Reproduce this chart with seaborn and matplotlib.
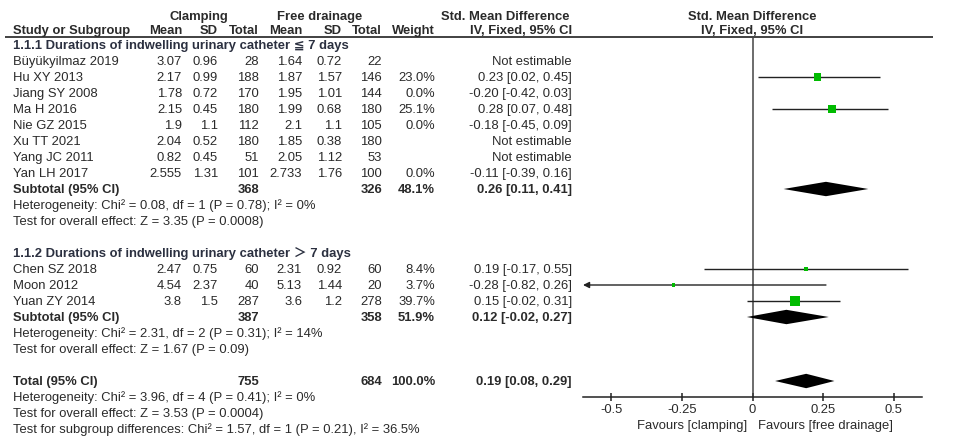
import numpy as np
import pandas as pd
import matplotlib
matplotlib.use("Agg")
import matplotlib.pyplot as plt
import seaborn as sns

# ---- study-level data -------------------------------------------------
studies = ["Büyükyilmaz 2019", "Hu XY 2013", "Jiang SY 2008", "Ma H 2016",
           "Nie GZ 2015", "Xu TT 2021", "Yang JC 2011", "Yan LH 2017",
           "Chen SZ 2018", "Moon 2012", "Yuan ZY 2014"]
subgroup = [1, 1, 1, 1, 1, 1, 1, 1, 2, 2, 2]
clamp_mean = [3.07, 2.17, 1.78, 2.15, 1.9, 2.04, 0.82, 2.555, 2.47, 4.54, 3.8]
clamp_sd = [0.96, 0.99, 0.72, 0.45, 1.1, 0.52, 0.45, 1.31, 0.75, 2.37, 1.5]
clamp_n = [28, 188, 170, 180, 112, 180, 51, 101, 60, 40, 287]
free_mean = [1.64, 1.87, 1.95, 1.99, 2.1, 1.85, 2.05, 2.733, 2.31, 5.13, 3.6]
free_sd = [0.72, 1.57, 1.01, 0.68, 1.1, 0.38, 1.12, 1.76, 0.92, 1.44, 1.2]
free_n = [22, 146, 144, 180, 105, 180, 53, 100, 60, 20, 278]
weight = [np.nan, 23.0, 0.0, 25.1, 0.0, np.nan, np.nan, 0.0, 8.4, 3.7, 39.7]
smd = [np.nan, 0.23, -0.20, 0.28, -0.18, np.nan, np.nan, -0.11, 0.19, -0.28, 0.15]
ci_low = [np.nan, 0.02, -0.42, 0.07, -0.45, np.nan, np.nan, -0.39, -0.17, -0.82, -0.02]
ci_high = [np.nan, 0.45, 0.03, 0.48, 0.09, np.nan, np.nan, 0.16, 0.55, 0.26, 0.31]

# ---- pooled estimates ---------------------------------------------------
group_titles = ["1.1.1 Durations of indwelling urinary catheter ≦ 7 days",
                "1.1.2 Durations of indwelling urinary catheter ＞ 7 days"]
sub_clamp_n = [368, 387]
sub_free_n = [326, 358]
sub_weight = [48.1, 51.9]
sub_est = [0.26, 0.12]
sub_low = [0.11, -0.02]
sub_high = [0.41, 0.27]
sub_het = ["Heterogeneity: Chi² = 0.08, df = 1 (P = 0.78); I² = 0%",
           "Heterogeneity: Chi² = 2.31, df = 2 (P = 0.31); I² = 14%"]
sub_test = ["Test for overall effect: Z = 3.35 (P = 0.0008)",
            "Test for overall effect: Z = 1.67 (P = 0.09)"]

total_clamp_n = 755
total_free_n = 684
total_weight = 100.0
total_est = 0.19
total_low = 0.08
total_high = 0.29
total_het = "Heterogeneity: Chi² = 3.96, df = 4 (P = 0.41); I² = 0%"
total_test = "Test for overall effect: Z = 3.53 (P = 0.0004)"
subgroup_test = "Test for subgroup differences: Chi² = 1.57, df = 1 (P = 0.21), I² = 36.5%"

x_ticks = [-0.5, -0.25, 0, 0.25, 0.5]
x_tick_labels = ["-0.5", "-0.25", "0", "0.25", "0.5"]
favours_left = "Favours [clamping]"
favours_right = "Favours [free drainage]"

df = pd.DataFrame(dict(study=studies, group=subgroup, cm=clamp_mean, csd=clamp_sd,
                       cn=clamp_n, fm=free_mean, fsd=free_sd, fn=free_n,
                       w=weight, smd=smd, lo=ci_low, hi=ci_high))

# ---- layout -----------------------------------------------------------
W, H = 968, 439
ROW0, STEP = 46.0, 16.0          # pixel centre of first row, row pitch
FS = 9.35
FAM = ["Liberation Sans", "DejaVu Sans", "Noto Sans CJK SC"]
TXT = "#2a2a2a"
HEAD = "#2b3040"
GREEN = "#00bb00"

sns.set_theme(style="white")
plt.rcParams["font.family"] = FAM
plt.rcParams["font.size"] = FS

fig = plt.figure(figsize=(W / 100, H / 100), dpi=100, facecolor="white")

# text layer covering the whole figure: x in pixels, y in row units
tab = fig.add_axes([0, 0, 1, 1])
tab.set_xlim(0, W)
tab.set_ylim((H - ROW0) / STEP, -ROW0 / STEP)
tab.axis("off")
tab.patch.set_alpha(0)

# column right edges (pixels)
X_NAME = 13
X_CM, X_CSD, X_CN = 182, 218, 259
X_FM, X_FSD, X_FN = 302, 342, 382
X_W, X_CI = 435, 572


def put(x, r, s, ha="right", bold=False, color=TXT):
    tab.text(x, r, s, ha=ha, va="center", fontsize=FS, color=color,
             fontweight="bold" if bold else "normal", family=FAM)


def fmt(v):
    return f"{v:g}"


# column headers
r_top, r_hdr = (17 - ROW0) / STEP, (31 - ROW0) / STEP
put(199, r_top, "Clamping", ha="center", bold=True)
put(320, r_top, "Free drainage", ha="center", bold=True)
put(505, r_top, "Std. Mean Difference", ha="center", bold=True)
put(752, r_top, "Std. Mean Difference", ha="center", bold=True)
put(X_NAME, r_hdr, "Study or Subgroup", ha="left", bold=True)
for x, s in [(X_CM, "Mean"), (X_CSD, "SD"), (X_CN, "Total"), (X_FM, "Mean"),
             (X_FSD, "SD"), (X_FN, "Total"), (X_W, "Weight"), (X_CI, "IV, Fixed, 95% CI")]:
    put(x, r_hdr, s, bold=True)
put(752, r_hdr, "IV, Fixed, 95% CI", ha="center", bold=True)
tab.hlines(-0.5, 5, 933, color="#333333", lw=1.3)

# rows of the table
rows = {}
r = 0
for g in (1, 2):
    put(X_NAME, r, group_titles[g - 1], ha="left", bold=True, color=HEAD)
    r += 1
    for i in df.index[df.group == g]:
        d = df.loc[i]
        rows[i] = r
        put(X_NAME, r, d.study, ha="left")
        put(X_CM, r, fmt(d.cm)); put(X_CSD, r, fmt(d.csd)); put(X_CN, r, f"{d.cn}")
        put(X_FM, r, fmt(d.fm)); put(X_FSD, r, fmt(d.fsd)); put(X_FN, r, f"{d.fn}")
        if np.isnan(d.smd):
            put(X_CI, r, "Not estimable")
        else:
            put(X_W, r, f"{d.w:.1f}%")
            put(X_CI, r, f"{d.smd:.2f} [{d.lo:.2f}, {d.hi:.2f}]")
        r += 1
    k = g - 1
    rows[f"sub{g}"] = r
    put(X_NAME, r, "Subtotal (95% CI)", ha="left", bold=True)
    put(X_CN, r, f"{sub_clamp_n[k]}", bold=True)
    put(X_FN, r, f"{sub_free_n[k]}", bold=True)
    put(X_W, r, f"{sub_weight[k]:.1f}%", bold=True)
    put(X_CI, r, f"{sub_est[k]:.2f} [{sub_low[k]:.2f}, {sub_high[k]:.2f}]", bold=True)
    put(X_NAME, r + 1, sub_het[k], ha="left")
    put(X_NAME, r + 2, sub_test[k], ha="left")
    r += 4

rows["total"] = r
put(X_NAME, r, "Total (95% CI)", ha="left", bold=True)
put(X_CN, r, f"{total_clamp_n}", bold=True)
put(X_FN, r, f"{total_free_n}", bold=True)
put(X_W, r, f"{total_weight:.1f}%", bold=True)
put(X_CI, r, f"{total_est:.2f} [{total_low:.2f}, {total_high:.2f}]", bold=True)
put(X_NAME, r + 1, total_het, ha="left")
put(X_NAME, r + 2, total_test, ha="left")
put(X_NAME, r + 3, subgroup_test, ha="left")

# ---- forest panel -------------------------------------------------------
y_top, y_bot = 38, 398
ax = fig.add_axes([583 / W, 1 - y_bot / H, 339 / W, (y_bot - y_top) / H])
ax.patch.set_alpha(0)
ax.set_xlim(-0.6, 0.6)
ax.set_ylim((y_bot - ROW0) / STEP, (y_top - ROW0) / STEP)
ax.axvline(0, color="#444444", lw=1.1, zorder=1)

est = df[(df.w > 0)].copy()
est["row"] = [rows[i] for i in est.index]
for _, d in est.iterrows():
    if d.lo < -0.6:
        ax.annotate("", xy=(-0.6, d.row), xytext=(d.hi, d.row),
                    arrowprops=dict(arrowstyle="-|>", color="#222222", lw=1.0,
                                    mutation_scale=9, shrinkA=0, shrinkB=0))
    else:
        ax.hlines(d.row, d.lo, d.hi, color="#222222", lw=1.0, zorder=2)

sns.scatterplot(data=est, x="smd", y="row", size="w", sizes=(0, 52),
                size_norm=(0, 39.7), marker="s", color=GREEN, linewidth=0,
                legend=False, ax=ax, zorder=3)


def diamond(row, mid, lo, hi, h=0.45):
    ax.fill([lo, mid, hi, mid], [row, row - h, row, row + h],
            color="black", lw=0, zorder=3)


for g in (1, 2):
    diamond(rows[f"sub{g}"], sub_est[g - 1], sub_low[g - 1], sub_high[g - 1])
diamond(rows["total"], total_est, total_low, total_high)

for side in ("top", "left", "right"):
    ax.spines[side].set_visible(False)
ax.spines["bottom"].set_color("#222222")
ax.spines["bottom"].set_linewidth(1.1)
ax.set_yticks([])
ax.set_xticks(x_ticks)
ax.set_xticklabels(x_tick_labels, fontsize=FS, color=TXT)
ax.tick_params(axis="x", direction="inout", length=6, width=1.1,
               color="#222222", pad=1.5, bottom=True)
ax.set_xlabel("")
ax.set_ylabel("")

r_fav = (426 - ROW0) / STEP
put(747, r_fav, favours_left, ha="right")
put(758, r_fav, favours_right, ha="left")

fig.savefig("out.png", dpi=100, facecolor="white")
